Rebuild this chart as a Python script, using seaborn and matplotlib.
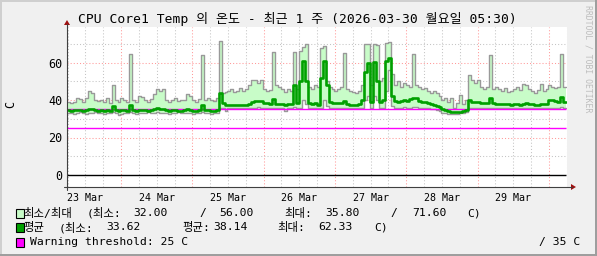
import numpy as np
import pandas as pd
import matplotlib
matplotlib.use("Agg")
import matplotlib.pyplot as plt
import seaborn as sns
from matplotlib.patches import Rectangle, Polygon
from matplotlib.lines import Line2D

# ---------------- data (hourly, starting Mar 23 ~05:50) ----------------
start_hour = 5.83  # hours since 2026-03-23 00:00

max_temp = [
    39, 38.5, 39, 41, 40.5, 39, 41, 45, 44, 40,
    39.5, 40, 39, 41, 38.5, 48, 40, 39, 41, 40,
    39, 64.5, 40, 39, 42, 41.5, 40, 39, 40.5, 43,
    46, 45, 46, 40, 39, 40, 41, 39.5, 40, 40,
    43, 42, 40, 39, 40.5, 64, 40, 41, 40, 39.5,
    41, 71.6, 44, 44.5, 45, 46, 44.5, 45, 46.5, 45,
    46, 48, 50.5, 50.6, 49, 50.5, 46, 45, 45.5, 65.6,
    48, 47, 46, 44.5, 46, 45, 65.6, 46, 66, 68.4,
    70, 47, 46, 48, 47, 68, 69, 50, 47, 46,
    45, 46, 47, 65, 46, 45, 44.5, 44, 45, 48,
    70, 70, 48, 70, 69.5, 50, 52, 70.5, 71, 54,
    48, 50, 47, 49, 48, 47, 64.5, 48, 47, 46,
    46.5, 45, 44, 45, 44, 42, 40, 41, 39, 41,
    35.8, 38.5, 42.6, 38, 40, 53.5, 50.5, 49, 50.6, 47,
    46, 47, 64, 46, 47, 46, 45, 46.5, 44.5, 45,
    46, 47, 45.5, 48.5, 48, 46, 45, 44, 45.5, 48.5,
    45, 46, 48, 47, 46.5, 47, 64.5, 47,
]

min_temp = [
    33, 33, 32.5, 33, 33.5, 33, 32.5, 33, 33, 33.5,
    33, 33, 32.5, 33, 33, 33.5, 33, 32, 32.5, 33,
    33, 33.5, 33, 32.5, 33, 33, 33, 33.5, 33, 33,
    33.5, 33, 33, 33, 32.5, 33, 33, 33.5, 33, 33,
    33, 33, 32.5, 33, 33, 33.5, 33, 33, 32.5, 33,
    33, 35.5, 35.5, 34, 35.5, 35.5, 36, 35.5, 35.5, 36,
    35.5, 35.5, 36, 36, 36.5, 36, 35.5, 35.5, 35.5, 36,
    35.5, 35.5, 36, 34, 35.5, 35.5, 36.5, 35.5, 36, 40,
    38, 35.5, 35.5, 35.5, 35.5, 36, 40, 37, 35.5, 35.5,
    35.5, 35.5, 35.5, 36, 35.5, 35.5, 35.5, 35.5, 35.5, 36,
    40, 42, 36, 42, 40, 36, 36, 45, 56, 37,
    36, 36, 36, 36.5, 36, 36, 36.5, 36.5, 36, 36,
    35.5, 35.5, 35, 35, 34.5, 34, 33, 33, 32.5, 32.5,
    32.5, 32.5, 33, 33, 33.5, 36, 36, 36, 35.5, 35.5,
    35.5, 35.5, 36, 35.5, 35.5, 35.5, 35.5, 35.5, 35.5, 35.5,
    35.5, 35.5, 35.5, 35.5, 35.5, 35.5, 35.5, 35.5, 35.5, 35.5,
    35.5, 35.5, 36, 36, 36, 36, 36.5, 36,
]

avg_temp = [
    34.5, 34.3, 34.5, 34.8, 34.6, 34.4, 34.8, 35.2, 35, 34.5,
    34.3, 34.5, 34.2, 34.6, 34.4, 37, 34.6, 34.2, 34.5, 34.6,
    34.4, 37.5, 34.6, 34.3, 34.8, 34.7, 34.5, 34.3, 34.6, 35,
    35.5, 35.2, 35.4, 34.6, 34.3, 34.5, 34.6, 34.2, 34.4, 34.5,
    35, 34.8, 34.4, 34.2, 34.5, 37.5, 34.6, 34.7, 34.4, 34.3,
    34.6, 43.5, 38.5, 37.5, 37.3, 37.3, 37.2, 37.3, 37.5, 37.2,
    37.4, 38, 39, 39.5, 39.5, 39.5, 38.5, 38.2, 38, 40.5,
    38, 38, 38, 37.5, 38, 38, 48, 38.5, 50, 61,
    50, 38.5, 38, 38.5, 37.5, 52, 61, 48, 39, 38.5,
    38.5, 38.5, 38.5, 39.5, 38, 37.5, 37.5, 37.5, 38, 40,
    55, 60, 39, 60.5, 50, 39, 40, 61, 62.33, 42,
    39.5, 39, 39.5, 40, 39.5, 40.5, 41, 41, 39.5, 39,
    39, 38.5, 38, 37.5, 37, 36.5, 35, 34.5, 34, 33.8,
    33.7, 33.62, 33.8, 34.2, 34.6, 40, 39, 38.9, 38.8, 38.5,
    38.5, 38.3, 41, 38.5, 38, 37.8, 38, 37.8, 38, 37.6,
    38, 37.8, 37.5, 38, 38.2, 38, 37.8, 37.5, 37.6, 38,
    37.8, 38, 40, 40, 39.5, 39, 41.5, 39,
]

day_labels = ["23 Mar", "24 Mar", "25 Mar", "26 Mar", "27 Mar", "28 Mar", "29 Mar"]
y_ticks = [0, 20, 40, 60]
warning_level = 25
critical_level = 35

# ---------------- styling ----------------
W, H = 597, 256
BG = "#f0f0f0"
LIGHT = "#c8fcc8"
DARK = "#00a000"
GRAYLINE = "#999999"
MAGENTA = "#ff00ff"
MONO = ["DejaVu Sans Mono", "Noto Sans CJK KR"]

sns.set_theme(style="white")
plt.rcParams["font.family"] = MONO

fig = plt.figure(figsize=(W / 100, H / 100), dpi=100, facecolor=BG)


def fx(px):
    return px / W


def fy(py):
    return 1 - py / H


# shaded frame
for (x, y, w, h, c) in [(0, 0, W, 2, "#cfcfcf"), (0, 0, 2, H, "#cfcfcf"),
                        (0, H - 2, W, 2, "#9e9e9e"), (W - 2, 0, 2, H, "#9e9e9e")]:
    fig.add_artist(Rectangle((fx(x), fy(y + h)), w / W, h / H, transform=fig.transFigure,
                             color=c, lw=0, zorder=0))

L, R, T, B = 67, 567, 27, 187
ax = fig.add_axes([fx(L), fy(B), (R - L) / W, (B - T) / H])
ax.set_facecolor("white")
for s in ax.spines.values():
    s.set_visible(False)

n = len(max_temp)
hours = start_hour + np.arange(n + 1)
df = pd.DataFrame({
    "hour": hours,
    "max": max_temp + [max_temp[-1]],
    "min": min_temp + [min_temp[-1]],
    "avg": avg_temp + [avg_temp[-1]],
})
end_hour = hours[-1]
px_per_h = 71.33 / 24
ax.set_xlim(start_hour, start_hour + (R - L) / px_per_h)
ax.set_ylim((175 - B) / 1.875, (175 - T) / 1.875)

# grid
for h in range(6, 175, 6):
    if h % 24 == 0:
        ax.axvline(h, color="#ff9999", lw=0.75, ls=(0, (1, 2)), zorder=1)
    else:
        ax.axvline(h, color="#c4c4c4", lw=0.75, ls=(0, (1, 2)), zorder=1)
for v in [10, 30, 50, 70]:
    ax.axhline(v, color="#c4c4c4", lw=0.75, ls=(0, (1, 2)), zorder=1)
for v in [20, 40, 60]:
    ax.axhline(v, color="#ff9999", lw=0.75, ls=(0, (1, 2)), zorder=1)

# data
ax.fill_between(df["hour"], df["min"], df["max"], step="post", color=LIGHT, lw=0, zorder=2)
sns.lineplot(data=df, x="hour", y="max", drawstyle="steps-post", color=GRAYLINE,
             lw=1.0, ax=ax, zorder=3, estimator=None)
sns.lineplot(data=df, x="hour", y="min", drawstyle="steps-post", color=GRAYLINE,
             lw=1.0, ax=ax, zorder=3, estimator=None)
ax.hlines([warning_level, critical_level], start_hour, end_hour, colors=MAGENTA, lw=1.0, zorder=4)
sns.lineplot(data=df, x="hour", y="avg", drawstyle="steps-post", color=DARK,
             lw=1.9, ax=ax, zorder=5, estimator=None)
ax.hlines([0], start_hour, end_hour, colors="black", lw=1.0, zorder=5)

ax.set_xlabel("")
ax.set_ylabel("")
ax.set_xticks([12 + 24 * k for k in range(len(day_labels))])
ax.set_xticklabels(day_labels, fontsize=7.2, family=MONO, color="#000000")
ax.set_yticks(y_ticks)
ax.set_yticklabels([str(v) for v in y_ticks], fontsize=8.5, family=MONO, color="#000000")
ax.tick_params(axis="x", length=0, pad=4)
ax.tick_params(axis="y", length=0, pad=3.5)

# axes lines and arrows
AXC = "#404040"
ARROW = "#a01010"
fig.add_artist(Line2D([fx(L), fx(L)], [fy(B + 3), fy(24)], transform=fig.transFigure, color=AXC, lw=0.8))
fig.add_artist(Line2D([fx(L - 3), fx(572)], [fy(B), fy(B)], transform=fig.transFigure, color=AXC, lw=0.8))
fig.add_artist(Polygon([[fx(L - 3), fy(25)], [fx(L + 3), fy(25)], [fx(L), fy(20)]],
                       closed=True, transform=fig.transFigure, color=ARROW, lw=0))
fig.add_artist(Polygon([[fx(571), fy(B - 3)], [fx(571), fy(B + 3)], [fx(576), fy(B)]],
                       closed=True, transform=fig.transFigure, color=ARROW, lw=0))

# title
fig.text(fx(297), fy(19), "CPU Core1 Temp 의 온도 - 최근 1 주 (2026-03-30 월요일 05:30)",
         ha="center", va="center", fontsize=9.4, family=MONO, color="black")
# y label
fig.text(fx(11), fy(104), "C", rotation=90, ha="center", va="center", fontsize=8.5,
         family=MONO, color="black")
# watermark
fig.text(fx(588), fy(5), "RRDTOOL / TOBI OETIKER", rotation=270, ha="center", va="top",
         fontsize=5.9, family=MONO, color="#bdbdbd")

# legend
LEG = 8.2
rows = [
    (213, LIGHT, [(23, "최소/최대"), (87, "(최소:"), (133, "32.00"), (199, "/"), (219, "56.00"),
                  (284, "최대:"), (325, "35.80"), (390, "/"), (412, "71.60"), (467, "C)")]),
    (227.5, DARK, [(23, "평균"), (59, "(최소:"), (106, "33.62"), (182, "평균:"), (213, "38.14"),
                   (277, "최대:"), (318, "62.33"), (374, "C)")]),
    (242, MAGENTA, [(30, "Warning threshold: 25 C"), (539, "/ 35 C")]),
]
for (yy, col, items) in rows:
    fig.add_artist(Rectangle((fx(16), fy(yy + 4.5)), 7.5 / W, 9 / H, transform=fig.transFigure,
                             facecolor=col, edgecolor="black", lw=0.8))
    for (xx, txt) in items:
        fig.text(fx(xx), fy(yy), txt, ha="left", va="center", fontsize=LEG, family=MONO,
                 color="black")

fig.savefig("out.png", dpi=100, facecolor=BG)
